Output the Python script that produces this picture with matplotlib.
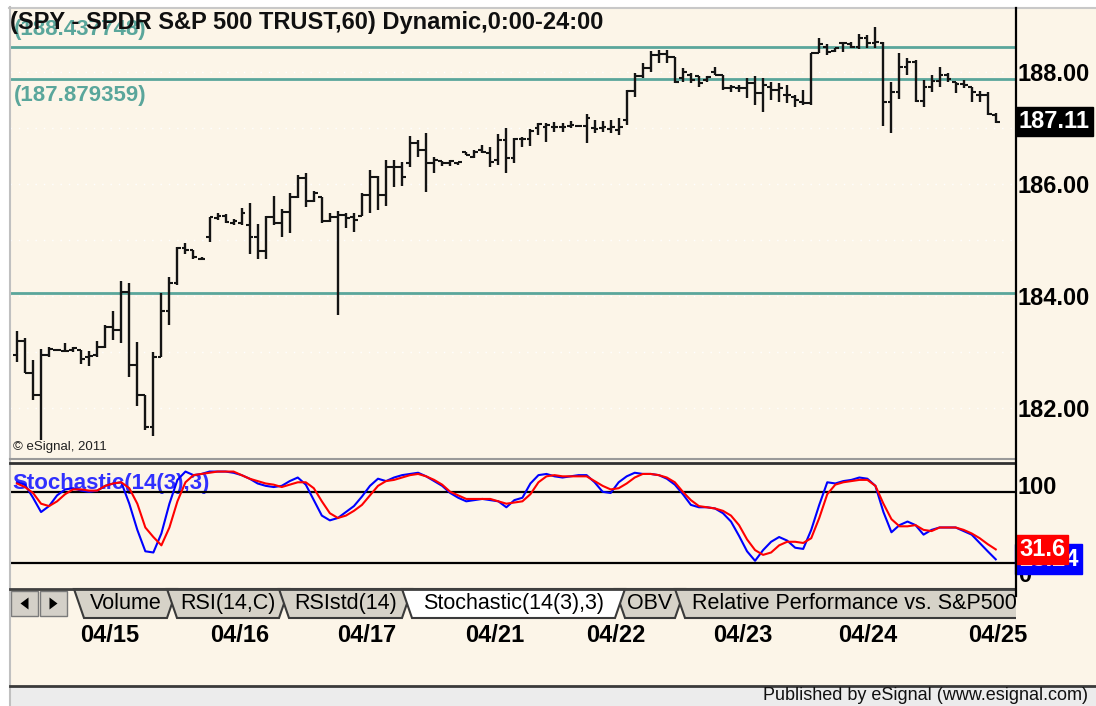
import numpy as np
import matplotlib
matplotlib.use("Agg")
import matplotlib.pyplot as plt
import matplotlib.transforms as mtransforms
from matplotlib.patches import Polygon, Rectangle

plt.rcParams["font.family"] = ["Liberation Sans", "DejaVu Sans"]

title = "(SPY - SPDR S&P 500 TRUST,60) Dynamic,0:00-24:00"

# hourly bars
opens = [182.95, 183.20, 182.63, 182.23, 182.95, 183.04, 183.02, 183.04, 183.04, 182.91,
         182.95, 183.09, 183.45, 183.39, 184.07, 182.77, 182.23, 181.66, 182.91, 183.73,
         184.23, 184.86, 184.82, 184.66, 185.05, 185.39, 185.43, 185.30, 185.30, 185.27,
         185.05, 184.80, 185.41, 185.30, 185.50, 185.77, 186.11, 185.70, 185.77, 185.34,
         185.41, 185.45, 185.41, 185.43, 185.80, 186.13, 185.80, 186.30, 186.30, 186.38,
         186.73, 186.61, 186.38, 186.41, 186.38, 186.38, 186.57, 186.48, 186.61, 186.55,
         186.43, 186.79, 186.46, 186.80, 186.80, 187.00, 187.02, 187.02, 187.02, 187.04,
         187.04, 187.04, 187.00, 187.00, 186.98, 186.96, 187.14, 187.66, 187.93, 188.07,
         188.30, 188.32, 188.27, 187.89, 187.95, 187.93, 187.86, 188.00, 187.95, 187.71,
         187.71, 187.71, 187.80, 187.63, 187.73, 187.68, 187.59, 187.55, 187.46, 187.45,
         188.34, 188.45, 188.38, 188.52, 188.50, 188.45, 188.61, 188.52, 188.52, 187.46,
         187.64, 188.09, 188.18, 187.48, 187.73, 187.84, 187.95, 187.82, 187.79, 187.73,
         187.59, 187.59, 187.23]
highs = [183.38, 183.25, 182.86, 183.05, 183.09, 183.05, 183.16, 183.09, 183.04, 183.02,
         183.20, 183.48, 183.73, 184.27, 184.23, 183.18, 182.23, 183.00, 184.05, 184.34,
         184.88, 184.95, 184.82, 184.70, 185.41, 185.48, 185.46, 185.38, 185.57, 185.66,
         185.29, 185.43, 185.79, 185.55, 185.84, 186.16, 186.20, 185.88, 185.77, 185.48,
         185.52, 185.48, 185.48, 185.84, 186.25, 186.14, 186.43, 186.43, 186.39, 186.86,
         186.79, 186.91, 186.48, 186.41, 186.43, 186.39, 186.57, 186.61, 186.70, 186.66,
         186.89, 187.00, 186.82, 186.84, 186.98, 187.09, 187.09, 187.11, 187.09, 187.13,
         187.05, 187.25, 187.14, 187.13, 187.14, 187.18, 187.68, 187.98, 188.16, 188.38,
         188.39, 188.39, 188.27, 188.07, 187.98, 187.93, 187.93, 188.09, 187.95, 187.77,
         187.77, 187.89, 187.93, 187.89, 187.82, 187.80, 187.77, 187.59, 187.68, 188.34,
         188.61, 188.50, 188.43, 188.54, 188.54, 188.68, 188.66, 188.80, 188.54, 187.82,
         188.34, 188.25, 188.21, 187.86, 187.95, 188.09, 187.98, 187.82, 187.86, 187.73,
         187.66, 187.64, 187.27]
lows = [182.82, 182.63, 182.14, 181.43, 182.91, 183.02, 183.00, 183.00, 182.79, 182.75,
        182.91, 183.07, 183.21, 183.16, 182.55, 182.04, 181.61, 181.50, 182.91, 183.48,
        184.20, 184.75, 184.66, 184.64, 184.96, 185.36, 185.30, 185.27, 185.27, 184.75,
        184.66, 184.66, 185.27, 185.05, 185.13, 185.75, 185.59, 185.68, 185.30, 185.32,
        183.66, 185.21, 185.14, 185.43, 185.48, 185.54, 185.61, 185.95, 185.96, 186.30,
        186.48, 185.86, 186.20, 186.32, 186.32, 186.34, 186.52, 186.46, 186.55, 186.30,
        186.34, 186.20, 186.38, 186.66, 186.68, 186.88, 186.75, 186.93, 186.93, 187.00,
        187.04, 186.73, 186.91, 186.93, 186.91, 186.88, 187.05, 187.55, 187.89, 188.00,
        188.16, 188.16, 187.80, 187.82, 187.80, 187.73, 187.82, 187.95, 187.68, 187.64,
        187.64, 187.54, 187.41, 187.29, 187.50, 187.46, 187.45, 187.38, 187.41, 187.41,
        188.34, 188.30, 188.36, 188.36, 188.43, 188.41, 188.43, 188.43, 187.04, 186.91,
        187.52, 187.95, 187.46, 187.38, 187.64, 187.73, 187.82, 187.63, 187.71, 187.46,
        187.46, 187.23, 187.09]
closes = [183.20, 182.63, 182.23, 182.95, 183.05, 183.04, 183.02, 183.07, 182.88, 182.93,
          183.09, 183.45, 183.39, 184.07, 182.77, 182.23, 181.66, 182.91, 183.73, 184.23,
          184.86, 184.82, 184.70, 184.66, 185.41, 185.43, 185.32, 185.34, 185.48, 185.05,
          184.80, 185.41, 185.30, 185.50, 185.77, 186.11, 185.70, 185.84, 185.34, 185.41,
          185.45, 185.39, 185.36, 185.80, 186.13, 185.80, 186.30, 186.30, 186.13, 186.73,
          186.61, 186.38, 186.43, 186.38, 186.41, 186.39, 186.52, 186.57, 186.57, 186.39,
          186.79, 186.46, 186.80, 186.80, 186.95, 187.07, 187.05, 187.02, 187.02, 187.05,
          187.04, 187.18, 186.98, 187.02, 187.02, 187.02, 187.66, 187.93, 188.07, 188.30,
          188.32, 188.27, 187.82, 188.00, 187.86, 187.80, 187.91, 187.95, 187.71, 187.73,
          187.71, 187.80, 187.63, 187.77, 187.68, 187.71, 187.59, 187.50, 187.45, 188.34,
          188.50, 188.36, 188.43, 188.52, 188.45, 188.61, 188.52, 188.54, 187.46, 187.64,
          188.09, 188.18, 187.48, 187.73, 187.84, 187.95, 187.88, 187.79, 187.77, 187.64,
          187.59, 187.25, 187.11]

# Stochastic(14(3),3): %K (blue) and %D (red)
stoch_k = [88, 86, 75, 63, 68, 77, 82, 83, 81, 80, 81, 85, 87, 88, 70, 48, 30, 29, 45, 70,
           90, 97, 94, 95, 97, 97, 97, 96, 94, 91, 87, 85, 84, 85, 89, 92, 86, 73, 60, 56,
           58, 63, 68, 76, 85, 91, 89, 92, 94, 95, 96, 93, 89, 85, 79, 75, 72, 73, 74, 73,
           72, 67, 73, 75, 87, 94, 95, 93, 92, 93, 94, 94, 88, 80, 79, 88, 93, 96, 95, 95,
           94, 91, 86, 78, 69, 67, 67, 66, 62, 55, 43, 30, 22, 31, 38, 42, 39, 33, 32, 48,
           69, 88, 87, 89, 90, 92, 91, 85, 63, 46, 52, 55, 52, 44, 48, 50, 50, 50, 47, 44,
           37, 30, 23.24]
stoch_d = [87, 84, 79, 70, 68, 72, 78, 82, 82, 81, 81, 85, 87, 88, 83, 70, 50, 42, 35, 50,
           72, 88, 94, 95, 96, 97, 97, 97, 94, 91, 89, 87, 86, 84, 86, 88, 88, 83, 72, 62,
           58, 60, 64, 69, 77, 85, 89, 90, 92, 94, 95, 93, 90, 86, 80, 77, 74, 74, 74, 74,
           72, 70, 71, 72, 78, 88, 93, 94, 93, 93, 93, 93, 89, 85, 82, 83, 87, 92, 95, 95,
           94, 92, 88, 80, 73, 68, 67, 66, 64, 60, 52, 40, 31, 27, 29, 35, 38, 38, 37, 41,
           58, 78, 86, 88, 89, 90, 90, 85, 70, 57, 51, 51, 52, 48, 47, 50, 50, 50, 48, 45,
           41, 36, 31.6]

levels = [188.437748, 187.879359, 184.05]
level_labels = ["(188.437748)", "(187.879359)"]
price_ticks = [182, 184, 186, 188]
stoch_levels = [80, 20]
date_labels = ["04/15", "04/16", "04/17", "04/21", "04/22", "04/23", "04/24", "04/25"]
date_bars = [11.6, 27.8, 43.6, 59.6, 74.6, 90.5, 106.1, 122.3]
tabs = ["Volume", "RSI(14,C)", "RSIstd(14)", "Stochastic(14(3),3)", "OBV",
        "Relative Performance vs. S&P500"]
active_tab = 3

W, H = 1096, 706
BG = "#fcf5e8"
TEAL = "#5aa69b"
BAR = "#141414"


def box(x0, y0, x1, y1):
    return [x0 / W, 1 - y1 / H, (x1 - x0) / W, (y1 - y0) / H]


fig = plt.figure(figsize=(W / 100, H / 100), dpi=100, facecolor=BG)
idx = np.arange(len(closes))
xlim = (-0.87, 124.4)

# overlay in pixel coords for the frame, tabs, captions
ov = fig.add_axes([0, 0, 1, 1], zorder=5)
ov.set_xlim(0, W)
ov.set_ylim(H, 0)
ov.axis("off")

# ---- price panel
ax = fig.add_axes(box(10, 8, 1015, 458))
ax.set_facecolor(BG)
ax.set_xlim(*xlim)
ax.set_ylim(181.11, 189.14)
for s in ax.spines.values():
    s.set_visible(False)
for p in range(182, 189):
    ax.axhline(p, color="white", lw=1, ls=(0, (1, 5)), zorder=0)
for lv in levels:
    ax.axhline(lv, color=TEAL, lw=2, zorder=1)
ax.vlines(idx, lows, highs, color=BAR, lw=1.7, zorder=3)
ax.hlines(opens, idx - 0.48, idx, color=BAR, lw=1.5, zorder=3)
ax.hlines(closes, idx, idx + 0.48, color=BAR, lw=1.5, zorder=3)
ax.set_xticks([])
ax.yaxis.tick_right()
ax.set_yticks(price_ticks)
ax.set_yticklabels([f"{p:.2f}" for p in price_ticks], fontsize=17, fontweight="bold")
ax.tick_params(axis="y", length=0, pad=2)
tr = mtransforms.blended_transform_factory(ax.transAxes, ax.transData)
ax.text(1.0 + 4 / 1005, closes[-1], f"{closes[-1]:.2f}", transform=tr, ha="left", va="center",
        color="white", fontsize=17, fontweight="bold", clip_on=False, zorder=6,
        bbox=dict(boxstyle="square,pad=0.12", fc="black", ec="black"))
ax.text(14, 30, level_labels[0], transform=ov.transData, color=TEAL, fontsize=16,
        fontweight="bold", va="center", zorder=2)
ax.text(14, 95, level_labels[1], transform=ov.transData, color=TEAL, fontsize=16,
        fontweight="bold", va="center", zorder=2)
ax.text(13, 447, "\u00a9 eSignal, 2011", transform=ov.transData, fontsize=9.5, va="center",
        color="#202020", zorder=2)
ax.text(10, 22, title, transform=ov.transData, fontsize=17, fontweight="bold",
        va="center", ha="left", color="#101010", zorder=8)

# ---- stochastic panel
ax2 = fig.add_axes(box(10, 463, 1015, 587))
ax2.set_facecolor(BG)
ax2.set_xlim(*xlim)
ax2.set_ylim(0, 104.2)
for s in ax2.spines.values():
    s.set_visible(False)
ax2.text(12, 484, "Stochastic(14(3),3)", transform=ov.transData, color="#3030ff",
         fontsize=16, fontweight="bold", va="center", zorder=1)
for lv in stoch_levels:
    ax2.axhline(lv, color="black", lw=1.6, zorder=2)
ax2.plot(idx, stoch_k, color="#0000ff", lw=1.5, zorder=3)
ax2.plot(idx, stoch_d, color="#ff0000", lw=1.5, zorder=4)
ax2.set_xticks([])
ax2.set_yticks([])
tr2 = mtransforms.blended_transform_factory(ax2.transAxes, ax2.transData)
down = mtransforms.ScaledTranslation(0, -8 / 100, fig.dpi_scale_trans)
ax2.text(1.0 + 3 / 1005, 100, "100", transform=tr2 + down, ha="left", va="top",
         fontsize=17, fontweight="bold", clip_on=False)
ax2.text(1.0 + 3 / 1005, 0, "0", transform=tr2, ha="left", va="bottom",
         fontsize=17, fontweight="bold", clip_on=False)
ax2.text(1.0 + 4 / 1005, stoch_k[-1], f"{stoch_k[-1]:.2f}", transform=tr2, ha="left",
         va="center", color="white", fontsize=17, fontweight="bold", clip_on=False, zorder=6,
         bbox=dict(boxstyle="square,pad=0.15", fc="#0000ff", ec="#0000ff"))
ax2.text(1.0 + 4 / 1005, stoch_d[-1], f"{stoch_d[-1]:.1f}", transform=tr2, ha="left",
         va="center", color="white", fontsize=17, fontweight="bold", clip_on=False, zorder=7,
         bbox=dict(boxstyle="square,pad=0.12", fc="#ff0000", ec="#ff0000"))

# date labels under the tab row
trd = mtransforms.blended_transform_factory(ax2.transData, fig.transFigure)
for pos, lab in zip(date_bars, date_labels):
    ax2.text(pos, 1 - 635 / H, lab, transform=trd, ha="center", va="center",
             fontsize=17, fontweight="bold", clip_on=False)

# ---- frame
ov.add_patch(Rectangle((0, 0), W, 7, fc="white", ec="none"))
ov.plot([9, W], [7.5, 7.5], color="#c8c8c8", lw=1.5)
ov.add_patch(Rectangle((0, 0), 9, H, fc="white", ec="none"))
ov.plot([9.5, 9.5], [7, H], color="#c0c0c0", lw=1.5)
ov.add_patch(Rectangle((10, 686), W, 20, fc="#ececec", ec="none"))
ov.plot([10, W], [685.5, 685.5], color="#3a3a3a", lw=2)
ov.text(1088, 696, "Published by eSignal (www.esignal.com)", ha="right", va="center",
        fontsize=13, color="#101010")
ov.plot([10, 1015], [459, 459], color="#9a9a9a", lw=1.5)
ov.plot([10, 1015], [462.5, 462.5], color="#303030", lw=2)

# tab row
ov.plot([10, 1015], [588.5, 588.5], color="#404040", lw=2)
for bx, tri in [(11, "l"), (40, "r")]:
    ov.add_patch(Rectangle((bx, 591), 27, 25, fc="#d4d0c8", ec="#7a7a7a", lw=1))
    cx, cy = bx + 13.5, 603.5
    pts = [(cx + 4, cy - 6), (cx + 4, cy + 6), (cx - 4, cy)] if tri == "l" else \
          [(cx - 4, cy - 6), (cx - 4, cy + 6), (cx + 4, cy)]
    ov.add_patch(Polygon(pts, closed=True, fc="black", ec="none"))
tab_edges = [(74, 177), (167, 289), (279, 412), (402, 625), (615, 685), (675, 1045)]
order = [i for i in range(len(tabs)) if i != active_tab] + [active_tab]
for i in order:
    xl, xr = tab_edges[i]
    fc = "white" if i == active_tab else "#d6d2c8"
    ov.add_patch(Polygon([(xl, 589), (xr, 589), (xr - 10, 618), (xl + 10, 618)],
                         closed=True, fc=fc, ec="#3a3a3a", lw=1.5))
    if i == len(tabs) - 1:
        ov.text(692, 603.5, tabs[i], ha="left", va="center", fontsize=15.5)
    else:
        ov.text((xl + xr) / 2, 603.5, tabs[i], ha="center", va="center", fontsize=15.5)
ov.add_patch(Rectangle((1016, 586), 80, 36, fc=BG, ec="none"))
ov.plot([1015.5, 1015.5], [8, 596], color="black", lw=1.6)

fig.savefig("out.png", dpi=100, facecolor=BG)
